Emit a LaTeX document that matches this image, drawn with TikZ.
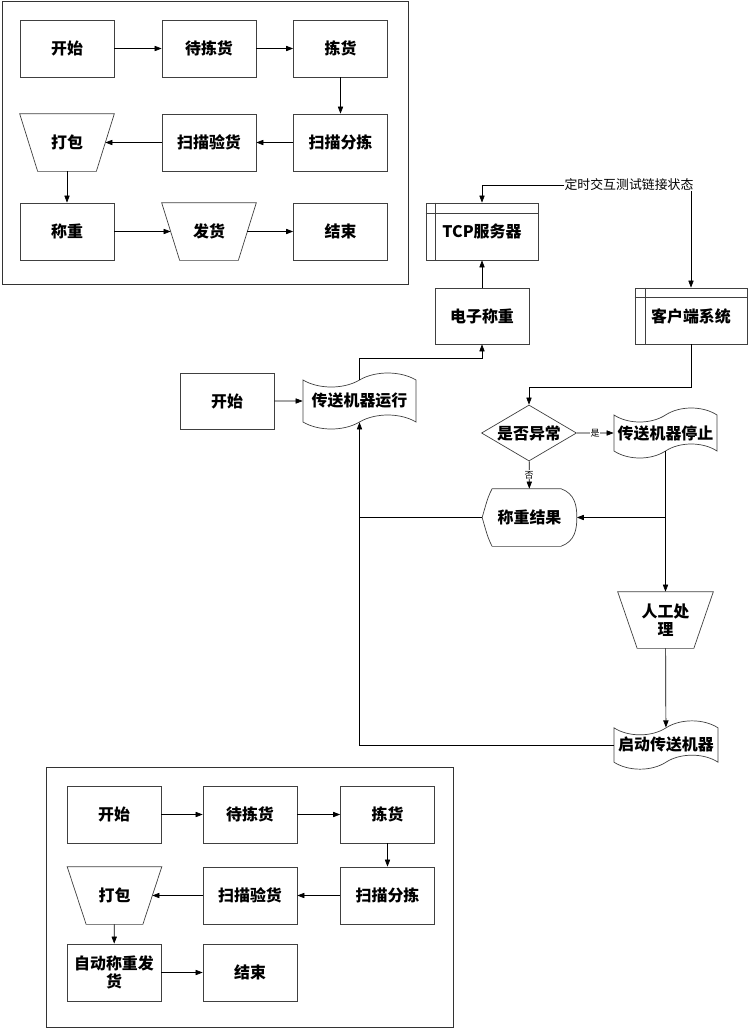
\documentclass[tikz,border=0pt]{standalone}
\usepackage{fontspec}
\setmainfont{Noto Sans CJK SC}
\usetikzlibrary{shapes.geometric,shapes.symbols,arrows.meta,calc}

% trapezoid outline round a node: name, inset of the lower corners
\newcommand{\trapline}[2]{\draw[black!75,line width=0.6pt] (#1.north west) -- (#1.north east) -- ($(#1.south east)+(-#2,0)$) -- ($(#1.south west)+(#2,0)$) -- cycle;}

\begin{document}
\begin{tikzpicture}[x=0.03cm,y=-0.03cm,
  box/.style={draw=black!75,line width=0.6pt,minimum width=2.82cm,minimum height=1.71cm,inner sep=0pt,align=center,font=\fontsize{13.6}{15.3}\selectfont\bfseries},
  trap/.style={box,draw=none},
  tapebox/.style={box,tape,tape bend height=0.42cm},
  arr/.style={-{Triangle[length=6pt,width=4.5pt]},line width=0.6pt},
  tiny/.style={font=\fontsize{7.7}{8}\selectfont,fill=white,inner sep=0.5pt}]
\useasboundingbox (0,0) rectangle (749,1029);

% Top frame
\draw[black!80,line width=0.6pt] (2,1) rectangle (408,284);
\node[box] (s1) at (67,48.5) {开始};
\node[box] (s2) at (209,48.5) {待拣货};
\node[box] (s3) at (340.5,48.5) {拣货};
\node[box] (s4) at (340.5,142.5) {扫描分拣};
\node[box] (s5) at (209,142.5) {扫描验货};
\node[trap] (s6) at (67,142.5) {打包};
\trapline{s6}{18}
\node[box] (s7) at (67,231.5) {称重};
\node[trap] (s8) at (209,231.5) {发货};
\trapline{s8}{18}
\node[box] (s9) at (340.5,231.5) {结束};

\draw[arr] (s1) -- (s2);
\draw[arr] (s2) -- (s3);
\draw[arr] (s3) -- (s4);
\draw[arr] (s4) -- (s5);
\draw[arr] (s5) -- ($(s6.east)+(-9,0)$);
\draw[arr] (s6) -- (s7);
\draw[arr] (s7) -- ($(s8.west)+(9,0)$);
\draw[arr] ($(s8.east)+(-9,0)$) -- (s9);

% Servers
\node[box,minimum width=3.36cm] (tcp) at (482,231.5) {TCP服务器};
\draw[black!75,line width=0.6pt] ($(tcp.north west)+(0,11)$) -- ($(tcp.north east)+(0,11)$);
\draw[black!75,line width=0.6pt] ($(tcp.north west)+(10,0)$) -- ($(tcp.south west)+(10,0)$);
\node[box,minimum height=1.68cm] (scale) at (482,316) {电子称重};
\node[box,minimum width=3.36cm,minimum height=1.68cm] (client) at (691,316) {客户端系统};
\draw[black!75,line width=0.6pt] ($(client.north west)+(0,10)$) -- ($(client.north east)+(0,10)$);
\draw[black!75,line width=0.6pt] ($(client.north west)+(11,0)$) -- ($(client.south west)+(11,0)$);
\node[font=\fontsize{11}{12}\selectfont,inner sep=0pt] (note) at (629,185) {定时交互测试链接状态};

% Conveyor flow
\node[box,minimum height=1.68cm] (begin) at (227,401) {开始};
\node[tapebox,minimum width=3.39cm,minimum height=1.68cm] (run) at (359.5,401) {传送机器运行};
\node[box,diamond,aspect=1.7,minimum width=2.85cm,minimum height=1.68cm] (dec) at (529,433) {是否异常};
\node[tapebox,minimum width=3.09cm,minimum height=1.5cm] (stop) at (665.5,433) {传送机器停止};
\node[box,draw=none] (res) at (529.5,517.5) {称重结果};
\draw[black!75,line width=0.6pt] ($(res.north west)+(10,0)$) -- ($(res.north east)+(-16,0)$)
  .. controls ($(res.north east)+(-2,5)$) and ($(res.east)+(0,-12)$) .. (res.east)
  .. controls ($(res.east)+(0,12)$) and ($(res.south east)+(-2,-5)$) .. ($(res.south east)+(-16,0)$)
  -- ($(res.south west)+(10,0)$)
  .. controls ($(res.south west)+(6,-8)$) .. (res.west)
  .. controls ($(res.north west)+(6,8)$) .. ($(res.north west)+(10,0)$);
\node[trap,minimum width=2.85cm,minimum height=1.68cm] (manual) at (665.5,620) {人工处\\理};
\trapline{manual}{19.5}
\node[tapebox,minimum width=3.12cm,minimum height=1.45cm] (restart) at (666,745) {启动传送机器};

\draw[arr] (note.west) -| (tcp.north);
\draw[arr] (note.south -| client.north) -- (client.north);
\draw[arr] (scale) -- (tcp);
\draw[arr] (begin) -- (run);
\draw[arr] (run.north) -- ++(0,-21) -| (scale.south);
\draw[arr] (client.south) -- ++(0,43) -| (dec.north);
\draw[arr] (dec) -- node[tiny] {是} (stop);
\draw[arr] (dec) -- node[tiny] {否} (res);
\draw[arr] (stop.south) -- (manual.north);
\draw[arr] (stop.south |- res.east) -- (res.east);
\draw[arr] (manual) -- (restart);
\draw[arr] (restart.west) -| (run.south);
\draw[line width=0.6pt] (res.west) -- (res.west -| run.south);

% Bottom frame
\draw[black!80,line width=0.6pt] (46,767) rectangle (453,1027);
\node[box] (b1) at (114,814.5) {开始};
\node[box] (b2) at (250,814.5) {待拣货};
\node[box] (b3) at (387.5,814.5) {拣货};
\node[box] (b4) at (387.5,895.5) {扫描分拣};
\node[box] (b5) at (250,895.5) {扫描验货};
\node[trap] (b6) at (114.5,895.5) {打包};
\trapline{b6}{19}
\node[box] (b7) at (114,972.5) {自动称重发\\货};
\node[box] (b8) at (250,972.5) {结束};

\draw[arr] (b1) -- (b2);
\draw[arr] (b2) -- (b3);
\draw[arr] (b3) -- (b4);
\draw[arr] (b4) -- (b5);
\draw[arr] (b5) -- ($(b6.east)+(-9.5,0)$);
\draw[arr] (b6) -- (b7);
\draw[arr] (b7) -- (b8);
\end{tikzpicture}
\end{document}
